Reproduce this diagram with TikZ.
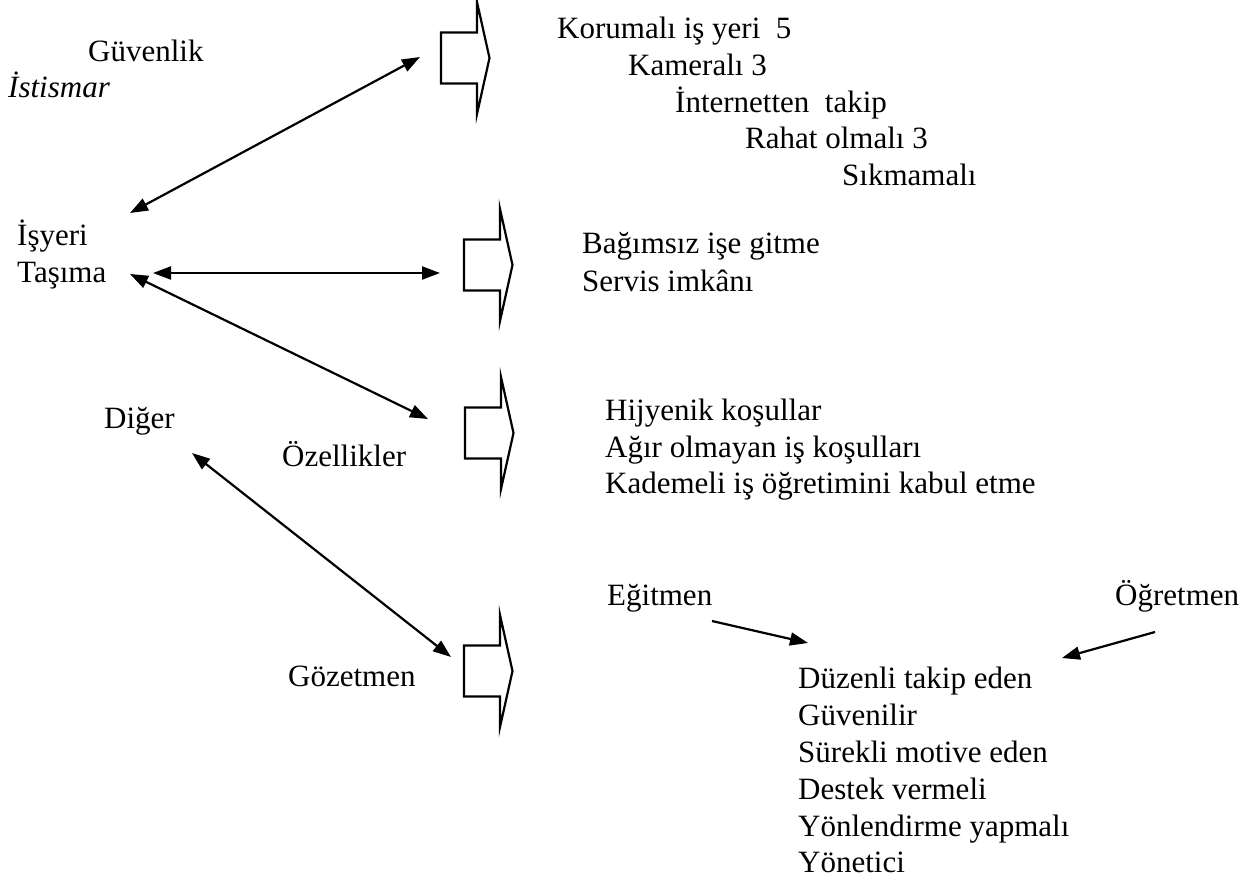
\documentclass[tikz,border=0pt]{standalone}
\usepackage{fontspec}
\setmainfont{Liberation Serif}
\usetikzlibrary{arrows.meta}

\tikzset{
  lbl/.style={anchor=base west, inner sep=0pt, font=\fontsize{31}{37}\selectfont},
  twoway/.style={line width=2.2pt,
    {Triangle[length=18pt,width=13pt]}-{Triangle[length=18pt,width=13pt]}},
  oneway/.style={line width=2.2pt, -{Triangle[length=18pt,width=13pt]}},
  bigarrow/.pic={
    \draw[line width=2.2pt, line join=miter]
      (0,-25.5) -- (36,-25.5) -- (36,-56) -- (48.5,0) -- (36,56)
      -- (36,25.5) -- (0,25.5) -- cycle;
  },
}

\begin{document}
\begin{tikzpicture}[x=1pt, y=-1pt]
  \path[use as bounding box] (0,0) rectangle (1254,879);

  % left column
  \node[lbl] (guvenlik) at (88,61) {Güvenlik};
  \node[lbl, font=\fontsize{31}{37}\selectfont\itshape] (istismar) at (8,97) {İstismar};
  \node[lbl] (isyeri) at (17,245) {İşyeri};
  \node[lbl] (tasima) at (17,282) {Taşıma};
  \node[lbl] (diger) at (104,428) {Diğer};
  \node[lbl] (ozellik) at (282,466) {Özellikler};
  \node[lbl] (gozetmen) at (288,686) {Gözetmen};

  % block arrows
  \pic (blk1) at (441,58) {bigarrow};
  \pic (blk2) at (464,265) {bigarrow};
  \pic (blk3) at (465,433) {bigarrow};
  \pic (blk4) at (464,671) {bigarrow};

  % ends of the connectors
  \coordinate (isyeri-in) at (130,213);
  \coordinate (blk1-in) at (420,57);
  \coordinate (tasima-in) at (153,273);
  \coordinate (blk2-in) at (440,273);
  \coordinate (tasima-low) at (130,274);
  \coordinate (blk3-in) at (428,419);
  \coordinate (diger-in) at (192,453);
  \coordinate (blk4-in) at (451,657);

  \draw[twoway] (isyeri-in) -- (blk1-in);
  \draw[twoway] (tasima-in) -- (blk2-in);
  \draw[twoway] (tasima-low) -- (blk3-in);
  \draw[twoway] (diger-in) -- (blk4-in);

  % security
  \node[lbl] (koruma) at (557,38) {Korumalı iş yeri~~5};
  \node[lbl] (kamera) at (628,75) {Kameralı 3};
  \node[lbl] (internet) at (675,112) {İnternetten~~takip};
  \node[lbl] (rahat) at (745,148) {Rahat olmalı 3};
  \node[lbl] (sikma) at (842,185) {Sıkmamalı};

  % transport
  \node[lbl] (bagimsiz) at (582,253) {Bağımsız işe gitme};
  \node[lbl] (servis) at (582,291) {Servis imkânı};

  % features
  \node[lbl] (hijyen) at (605,420) {Hijyenik koşullar};
  \node[lbl] (agir) at (605,457) {Ağır olmayan iş koşulları};
  \node[lbl] (kademe) at (605,493) {Kademeli iş öğretimini kabul etme};

  % supervisor
  \node[lbl] (egitmen) at (607,605) {Eğitmen};
  \node[lbl] (ogretmen) at (1115,605) {Öğretmen};
  \foreach \t [count=\i] in {Düzenli takip eden, Güvenilir, Sürekli motive eden,
      Destek vermeli, Yönlendirme yapmalı, Yönetici}{
    \node[lbl] (nit\i) at (798, 652+36.8*\i) {\t};
  }

  \coordinate (egitmen-out) at (712,621);
  \coordinate (egitmen-end) at (808,643);
  \coordinate (ogretmen-out) at (1155,632);
  \coordinate (ogretmen-end) at (1062,658);
  \draw[oneway] (egitmen-out) -- (egitmen-end);
  \draw[oneway] (ogretmen-out) -- (ogretmen-end);
\end{tikzpicture}
\end{document}
